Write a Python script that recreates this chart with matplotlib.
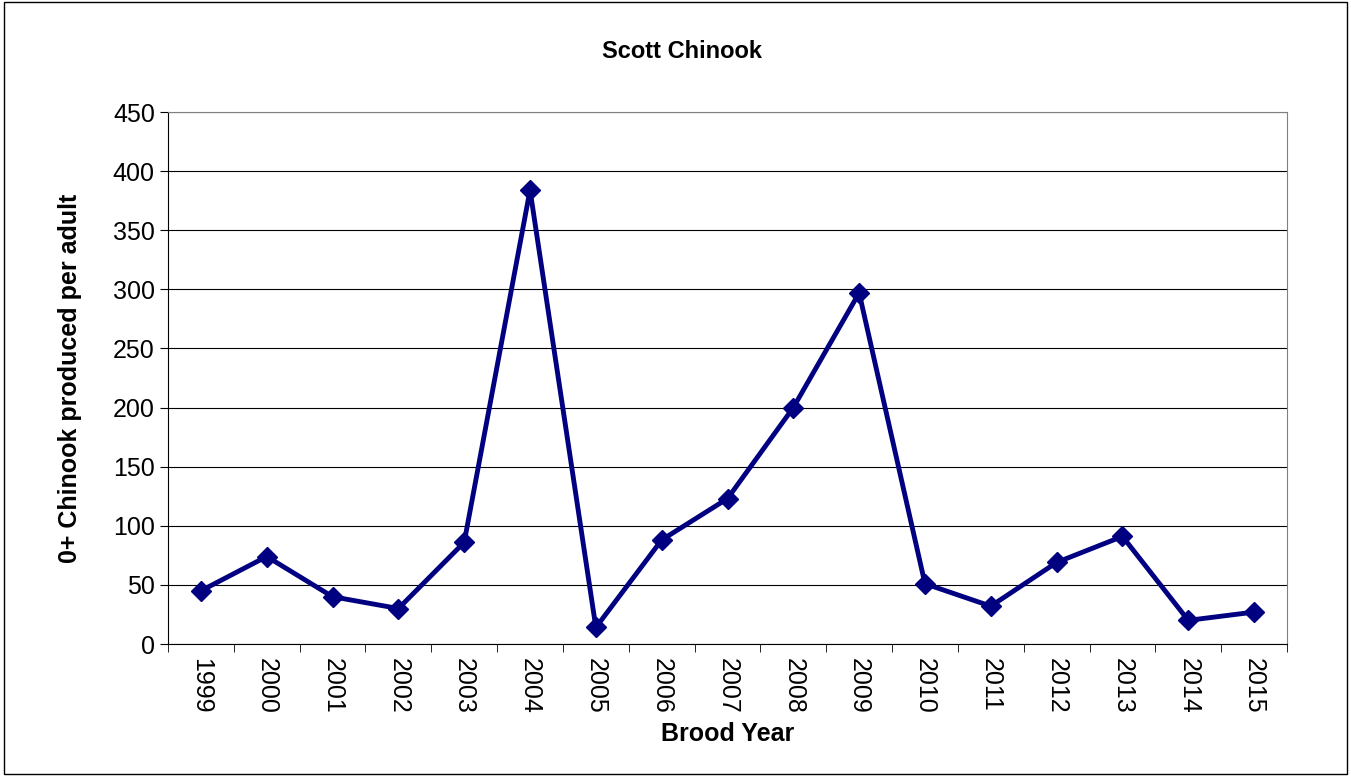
import matplotlib
matplotlib.use("Agg")
import matplotlib.pyplot as plt
from matplotlib.patches import Rectangle

years = ["1999", "2000", "2001", "2002", "2003", "2004", "2005", "2006", "2007",
         "2008", "2009", "2010", "2011", "2012", "2013", "2014", "2015"]
values = [45, 74, 40, 30, 86, 384, 14, 88, 123, 200, 297, 51, 32, 69, 91, 20, 27]

fig = plt.figure(figsize=(13.51, 7.76), dpi=100)
fig.patches.append(Rectangle((0.003, 0.003), 0.994, 0.994, transform=fig.transFigure,
                             fill=False, edgecolor="black", linewidth=1))
ax = fig.add_axes([168 / 1351, 1 - 644 / 776, (1287 - 168) / 1351, (644 - 112) / 776])

x = list(range(len(years)))
ax.plot(x, values, color="#000080", linewidth=3.5, marker="D", markersize=10,
        markerfacecolor="#000080", markeredgecolor="#000080")

ax.set_xlim(-0.5, len(years) - 0.5)
ax.set_ylim(0, 450)
ax.set_yticks(range(0, 451, 50))
ax.yaxis.grid(True, color="black", linewidth=0.8)
ax.set_axisbelow(True)
ax.set_xticks(x)
ax.set_xticklabels(years, rotation=-90, fontsize=18, family="Liberation Sans")
ax.set_xticks([i - 0.5 for i in range(len(years) + 1)], minor=True)
ax.tick_params(axis="x", which="major", length=0, pad=10)
ax.tick_params(axis="x", which="minor", length=6)
ax.tick_params(axis="y", labelsize=18, length=6)
for lab in ax.get_yticklabels():
    lab.set_family("Liberation Sans")
for s in ax.spines.values():
    s.set_color("gray")
ax.spines["left"].set_color("black")
ax.spines["bottom"].set_color("black")

ax.set_xlabel("Brood Year", fontsize=18, fontweight="bold", family="Liberation Sans", labelpad=6)
ax.set_ylabel("0+ Chinook produced per adult", fontsize=18, fontweight="bold",
              family="Liberation Sans", labelpad=22)
fig.text(682 / 1351, 1 - 52 / 776, "Scott Chinook", ha="center", va="center",
         fontsize=17, fontweight="bold", family="Liberation Sans")

fig.savefig("out.png", dpi=100)
